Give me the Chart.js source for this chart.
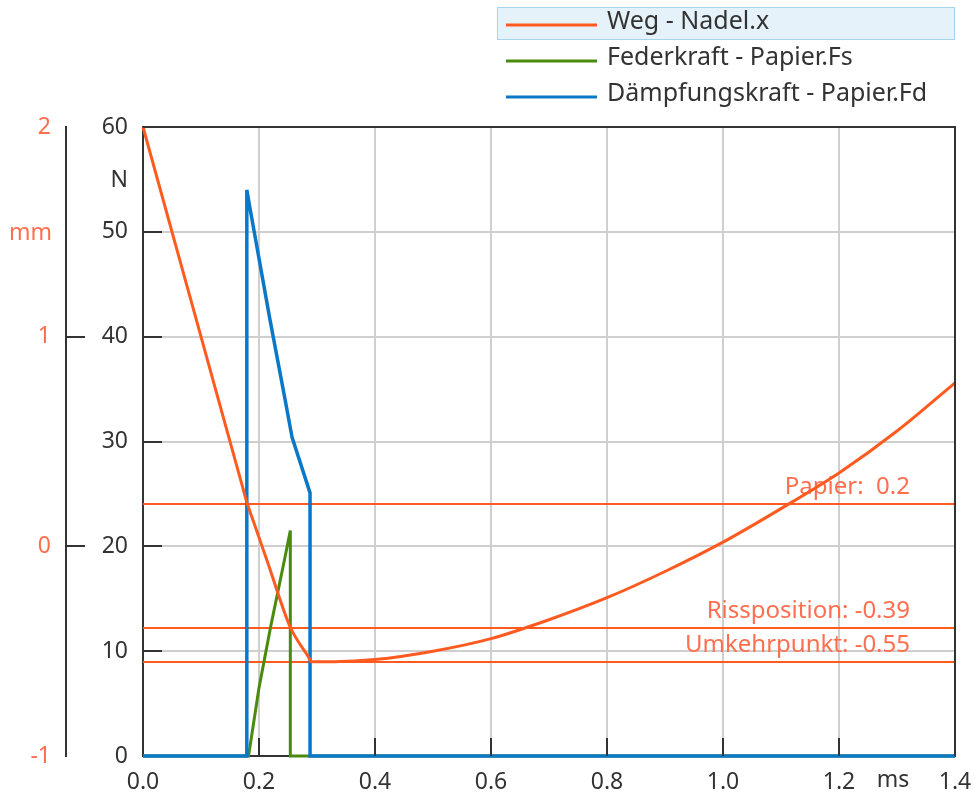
<!DOCTYPE html>
<html>
<head>
<meta charset="utf-8">
<script src="https://cdn.jsdelivr.net/npm/chart.js@4/dist/chart.umd.min.js"></script>
<style>
  html, body { margin: 0; padding: 0; background: #fff; }
  #wrap { width: 974px; height: 794px; position: relative; }
</style>
</head>
<body>
<div id="wrap"><canvas id="myChart" width="974" height="794"></canvas></div>
<script>
// Weg der Nadel (mm) über der Zeit (ms)
const wegZeit = [0, 0.09, 0.17, 0.179, 0.19, 0.216, 0.253, 0.285, 0.29, 0.33, 0.40, 0.50, 0.60, 0.70, 0.80, 0.90, 1.00, 1.10, 1.20, 1.30, 1.40];
const wegWert = [2.0, 1.10, 0.30, 0.21, 0.122, -0.085, -0.38, -0.527, -0.55, -0.55, -0.54, -0.50, -0.44, -0.35, -0.245, -0.12, 0.02, 0.18, 0.35, 0.55, 0.78];

// Federkraft (N)
const federZeit = [0, 0.182, 0.20, 0.22, 0.245, 0.254, 0.254, 1.4];
const federWert = [0, 0, 6.5, 12.3, 19.0, 21.5, 0, 0];

// Dämpfungskraft (N)
const daempfZeit = [0, 0.179, 0.179, 0.184, 0.219, 0.245, 0.257, 0.288, 0.288, 1.4];
const daempfWert = [0, 0, 54, 52.4, 41.6, 34.0, 30.4, 25.1, 0, 0];

// Legende
const serienNamen = ['Weg - Nadel.x', 'Federkraft - Papier.Fs', 'Dämpfungskraft - Papier.Fd'];

// Markierungen auf der mm-Achse
const markerNamen = ['Papier:  0.2', 'Rissposition: -0.39', 'Umkehrpunkt: -0.55'];
const markerWerte = [0.2, -0.39, -0.55];

// Achsen
const zeitTicks = [0, 0.2, 0.4, 0.6, 0.8, 1.0, 1.2, 1.4];
const kraftTicks = [0, 10, 20, 30, 40, 50, 60];
const wegTicks = [-1, 0, 1, 2];

const orange = '#ff5a1f';
const orangeText = '#ff6f4f';
const gruen = '#4a8a0c';
const blau = '#0a78c8';
const dunkel = '#333333';
const raster = '#cfcfcf';
const schrift = '"Noto Sans", "DejaVu Sans", sans-serif';

const toPoints = (xs, ys) => xs.map((x, i) => ({ x: x, y: ys[i] }));

// Zeichnet Rahmen, innere Ticks, Einheiten, Markierungen und Legende
const dekoPlugin = {
  id: 'deko',
  beforeDatasetsDraw(chart) {
    const { ctx, chartArea } = chart;
    const mm = chart.scales.mm;
    ctx.save();
    ctx.strokeStyle = orange;
    ctx.lineWidth = 2;
    ctx.font = '24px ' + schrift;
    ctx.fillStyle = orangeText;
    ctx.textAlign = 'right';
    ctx.textBaseline = 'middle';
    markerWerte.forEach((v, i) => {
      const y = Math.round(mm.getPixelForValue(v));
      ctx.beginPath();
      ctx.moveTo(chartArea.left, y);
      ctx.lineTo(chartArea.right, y);
      ctx.stroke();
      ctx.fillText(markerNamen[i], 910, y - 17);
    });
    ctx.restore();
  },
  afterDraw(chart) {
    const { ctx, chartArea } = chart;
    const { x, N, mm } = chart.scales;
    ctx.save();

    // Rahmen oben und rechts
    ctx.strokeStyle = dunkel;
    ctx.lineWidth = 2;
    ctx.beginPath();
    ctx.moveTo(chartArea.left, chartArea.top);
    ctx.lineTo(chartArea.right, chartArea.top);
    ctx.lineTo(chartArea.right, chartArea.bottom);
    ctx.stroke();

    // innere Ticks
    ctx.beginPath();
    kraftTicks.slice(1, -1).forEach(v => {
      const y = Math.round(N.getPixelForValue(v));
      ctx.moveTo(chartArea.left, y);
      ctx.lineTo(chartArea.left + 19, y);
    });
    zeitTicks.slice(1, -1).forEach(v => {
      const px = Math.round(x.getPixelForValue(v));
      ctx.moveTo(px, chartArea.bottom);
      ctx.lineTo(px, chartArea.bottom - 18);
    });
    wegTicks.slice(1, -1).forEach(v => {
      const y = Math.round(mm.getPixelForValue(v));
      ctx.moveTo(mm.right, y);
      ctx.lineTo(mm.right + 19, y);
    });
    ctx.stroke();

    // Einheiten
    ctx.font = '23px ' + schrift;
    ctx.textBaseline = 'middle';
    ctx.textAlign = 'right';
    ctx.fillStyle = dunkel;
    ctx.fillText('N', 128, 180);
    ctx.fillStyle = orangeText;
    ctx.fillText('mm', 52, 233);
    ctx.textAlign = 'center';
    ctx.fillStyle = dunkel;
    ctx.fillText('ms', 893, 780);

    // Legende
    ctx.fillStyle = '#e6f2f9';
    ctx.fillRect(497, 7, 458, 33);
    ctx.strokeStyle = '#a9d5ec';
    ctx.lineWidth = 1;
    ctx.strokeRect(497.5, 7.5, 457, 32);
    const farben = [orange, gruen, blau];
    const zeilen = [24, 60, 96];
    ctx.font = '25px ' + schrift;
    ctx.textAlign = 'left';
    serienNamen.forEach((name, i) => {
      ctx.strokeStyle = farben[i];
      ctx.lineWidth = 3;
      ctx.beginPath();
      ctx.moveTo(506, zeilen[i] + 1);
      ctx.lineTo(597, zeilen[i] + 1);
      ctx.stroke();
      ctx.fillStyle = dunkel;
      ctx.fillText(name, 607, zeilen[i] - 2);
    });
    ctx.restore();
  }
};

const ctx = document.getElementById('myChart').getContext('2d');
const chart = new Chart(ctx, {
  type: 'line',
  data: {
    datasets: [
      {
        label: serienNamen[0],
        data: toPoints(wegZeit, wegWert),
        yAxisID: 'mm',
        borderColor: orange,
        borderWidth: 3,
        pointRadius: 0,
        cubicInterpolationMode: 'monotone',
        clip: false,
        order: 0
      },
      {
        label: serienNamen[1],
        data: toPoints(federZeit, federWert),
        yAxisID: 'N',
        borderColor: gruen,
        borderWidth: 3,
        pointRadius: 0,
        clip: false,
        order: 2
      },
      {
        label: serienNamen[2],
        data: toPoints(daempfZeit, daempfWert),
        yAxisID: 'N',
        borderColor: blau,
        borderWidth: 3.5,
        pointRadius: 0,
        clip: false,
        order: 1
      }
    ]
  },
  options: {
    responsive: false,
    animation: false,
    layout: { padding: { top: 127, right: 19, bottom: 0, left: 0 } },
    plugins: {
      legend: { display: false },
      tooltip: { enabled: false }
    },
    scales: {
      x: {
        type: 'linear',
        min: 0,
        max: 1.4,
        afterFit: s => {
          s.height = 38;
          s.paddingLeft = 0;
          s.paddingRight = 0;
        },
        afterBuildTicks: s => { s.ticks = zeitTicks.map(v => ({ value: v })); },
        ticks: {
          padding: 13,
          color: dunkel,
          font: { family: schrift, size: 23 },
          maxRotation: 0,
          autoSkip: false,
          callback: v => v.toFixed(1)
        },
        grid: { color: raster, lineWidth: 2, drawTicks: false },
        border: { color: dunkel, width: 2 }
      },
      N: {
        position: 'left',
        weight: 0,
        min: 0,
        max: 60,
        afterFit: s => { s.width = 77; },
        afterBuildTicks: s => { s.ticks = kraftTicks.map(v => ({ value: v })); },
        ticks: {
          padding: 15,
          color: dunkel,
          font: { family: schrift, size: 23 }
        },
        grid: { color: raster, lineWidth: 2, drawTicks: false },
        border: { color: dunkel, width: 2 }
      },
      mm: {
        position: 'left',
        weight: 1,
        min: -1,
        max: 2,
        afterFit: s => { s.width = 66; },
        afterBuildTicks: s => { s.ticks = wegTicks.map(v => ({ value: v })); },
        ticks: {
          padding: 15,
          color: orangeText,
          font: { family: schrift, size: 23 }
        },
        grid: { display: false, drawTicks: false },
        border: { color: dunkel, width: 2 }
      }
    }
  },
  plugins: [dekoPlugin]
});
</script>
</body>
</html>
